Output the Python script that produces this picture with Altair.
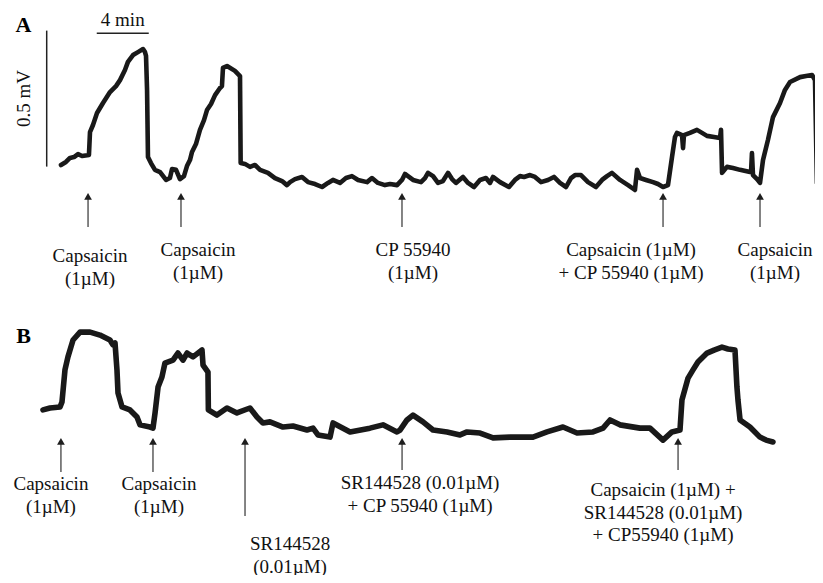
import altair as alt
import pandas as pd

# ---------------- data (time in min, potential in mV, relative) ----------------
A_TIME = [0, 0.38, 0.69, 1.00, 1.31, 1.62, 2.15, 2.23, 2.46, 2.77,
          3.23, 3.77, 4.23, 4.54, 4.92, 5.15, 5.54, 5.92, 6.31, 6.46,
          6.54, 6.62, 6.69, 6.92, 7.23, 7.62, 8.08, 8.38, 8.54, 8.85,
          9.15, 9.46, 9.69, 9.92, 10.08, 10.38, 10.69, 11.00, 11.23, 11.54,
          11.85, 12.23, 12.38, 12.46, 12.77, 13.38, 13.77, 13.82, 14.15, 14.54,
          14.92, 15.31, 15.92, 16.46, 17.00, 17.38, 17.62, 18.00, 18.54, 19.00,
          19.54, 20.08, 20.54, 20.92, 21.46, 21.92, 22.38, 22.85, 23.54, 23.92,
          24.38, 24.92, 25.31, 25.85, 26.23, 26.46, 26.69, 27.08, 27.69, 28.00,
          28.23, 28.62, 29.00, 29.38, 29.77, 30.08, 30.38, 30.92, 31.31, 31.77,
          32.23, 32.69, 33.00, 33.23, 33.77, 34.46, 34.92, 35.31, 35.62, 36.08,
          36.46, 36.92, 37.46, 37.92, 38.38, 38.85, 39.23, 39.54, 40.00, 40.54,
          41.15, 41.62, 42.00, 42.38, 43.00, 43.62, 44.15, 44.31, 44.54, 45.00,
          45.54, 45.92, 46.31, 46.69, 47.00, 47.23, 47.38, 47.77, 47.85, 47.92,
          48.38, 48.92, 49.31, 49.69, 50.23, 50.69, 50.77, 50.85, 51.23, 51.69,
          52.23, 53.00, 53.08, 53.15, 53.23, 53.54, 53.77, 54.00, 54.38, 54.77,
          55.31, 55.69, 56.08, 56.85, 57.31, 57.77, 58.00, 58.15, 58.38]
A_MV = [0.092, 0.103, 0.118, 0.121, 0.132, 0.125, 0.129, 0.213, 0.239, 0.283,
        0.320, 0.360, 0.382, 0.404, 0.441, 0.471, 0.496, 0.507, 0.518, 0.507,
        0.493, 0.368, 0.121, 0.099, 0.074, 0.066, 0.037, 0.044, 0.077, 0.074,
        0.040, 0.051, 0.088, 0.110, 0.140, 0.169, 0.221, 0.257, 0.294, 0.316,
        0.349, 0.375, 0.382, 0.449, 0.456, 0.438, 0.419, 0.099, 0.096, 0.085,
        0.092, 0.074, 0.063, 0.044, 0.033, 0.018, 0.029, 0.040, 0.048, 0.029,
        0.022, 0.011, 0.026, 0.037, 0.026, 0.044, 0.051, 0.037, 0.029, 0.044,
        0.026, 0.018, 0.022, 0.018, 0.037, 0.059, 0.051, 0.037, 0.029, 0.044,
        0.063, 0.051, 0.026, 0.033, 0.063, 0.040, 0.026, 0.048, 0.026, 0.011,
        0.037, 0.044, 0.026, 0.048, 0.029, 0.011, 0.037, 0.051, 0.048, 0.055,
        0.048, 0.029, 0.037, 0.048, 0.026, 0.011, 0.044, 0.055, 0.055, 0.029,
        0.011, 0.037, 0.051, 0.063, 0.037, 0.018, 0.000, 0.074, 0.044, 0.037,
        0.029, 0.022, 0.011, 0.018, 0.121, 0.195, 0.210, 0.202, 0.154, 0.202,
        0.210, 0.221, 0.210, 0.199, 0.195, 0.191, 0.221, 0.063, 0.085, 0.081,
        0.074, 0.066, 0.066, 0.136, 0.055, 0.040, 0.026, 0.110, 0.184, 0.268,
        0.320, 0.368, 0.397, 0.415, 0.419, 0.423, 0.404, 0.026, 0.026]

B_TIME = [0, 0.54, 1.31, 1.46, 1.69, 1.92, 2.31, 2.85, 3.62, 4.38,
          5.15, 5.38, 5.54, 5.69, 5.77, 6.08, 6.69, 7.23, 7.46, 8.23,
          8.46, 8.62, 8.85, 9.15, 9.38, 10.00, 10.38, 10.77, 11.08, 11.54,
          12.23, 12.31, 12.69, 12.72, 13.38, 14.15, 14.92, 15.92, 16.46, 16.92,
          17.46, 18.46, 19.23, 20.31, 20.77, 21.15, 22.08, 22.31, 23.62, 25.15,
          26.15, 27.23, 27.46, 28.00, 28.46, 29.23, 30.00, 31.08, 32.08, 32.62,
          33.62, 34.62, 35.92, 37.69, 38.77, 40.00, 41.08, 42.31, 43.08, 43.62,
          44.38, 45.92, 46.69, 47.69, 48.38, 49.00, 49.15, 49.62, 50.00, 50.38,
          51.08, 51.62, 52.23, 52.69, 53.23, 53.38, 53.46, 53.62, 54.38, 55.15,
          55.62, 56.15]
B_MV = [0.118, 0.125, 0.129, 0.147, 0.265, 0.313, 0.375, 0.404, 0.404, 0.393,
        0.375, 0.357, 0.364, 0.265, 0.180, 0.129, 0.118, 0.092, 0.063, 0.055,
        0.051, 0.107, 0.202, 0.239, 0.290, 0.301, 0.327, 0.301, 0.327, 0.313,
        0.338, 0.283, 0.257, 0.118, 0.099, 0.125, 0.107, 0.125, 0.092, 0.070,
        0.074, 0.055, 0.059, 0.044, 0.051, 0.026, 0.018, 0.070, 0.037, 0.051,
        0.063, 0.037, 0.044, 0.081, 0.099, 0.074, 0.044, 0.037, 0.026, 0.037,
        0.033, 0.015, 0.018, 0.018, 0.037, 0.055, 0.033, 0.037, 0.051, 0.081,
        0.063, 0.051, 0.051, 0.007, 0.037, 0.044, 0.154, 0.235, 0.265, 0.294,
        0.327, 0.338, 0.349, 0.342, 0.338, 0.202, 0.154, 0.081, 0.055, 0.018,
        0.007, 0.000]

A_EVENT_TIME = [2.08, 9.23, 26.23, 46.31, 53.77]
A_EVENT_LABEL = ["Capsaicin\n(1µM)", "Capsaicin\n(1µM)", "CP 55940\n(1µM)",
                 "Capsaicin (1µM)\n+ CP 55940 (1µM)", "Capsaicin\n(1µM)"]
B_EVENT_TIME = [1.38, 8.46, 15.54, 27.62, 48.85]
B_EVENT_LABEL = ["Capsaicin\n(1µM)", "Capsaicin\n(1µM)", "SR144528\n(0.01µM)",
                 "SR144528 (0.01µM)\n+ CP 55940 (1µM)",
                 "Capsaicin (1µM) +\nSR144528 (0.01µM)\n+ CP55940 (1µM)"]

SCALE_MIN = 4
SCALE_MV = 0.5
SCALE_LABELS = ["4 min", "0.5 mV"]
PANEL_LETTERS = ["A", "B"]

# ---------------- layout / style ----------------
W, H = 807, 567
PX_PER_MIN = 13.0
PX_PER_MV = 272.0
A_ORIGIN = (53, 182)
B_ORIGIN = (35, 434)
FONT = "Liberation Serif"
INK = "#191919"
TEXT = "#111111"
FS = 19

SB_H_T0, SB_H_V = 2.75, 0.576
SB_V_T, SB_V_V0 = -1.10, 0.086
MIN_LABEL_V = 0.603
MV_LABEL_T = -2.81

A_LABEL_DX = [2, 17, 11, -32, 15]
A_LABEL_Y = [254, 248, 248, 248, 248]
A_ARROW_TAIL = [219, 219, 219, 219, 219]
A_ARROW_TIP = 185
B_LABEL_DX = [-10, 6, 45, 18, -15]
B_LABEL_Y = [482, 482, 542, 481, 488]
B_ARROW_TAIL = [464, 464, 508, 462, 462]
B_ARROW_TIP = 430


def xs(origin):
    return alt.Scale(domain=[-origin[0] / PX_PER_MIN, (W - origin[0]) / PX_PER_MIN],
                     nice=False, zero=False)


def ys(origin):
    return alt.Scale(domain=[(origin[1] - H) / PX_PER_MV, origin[1] / PX_PER_MV],
                     nice=False, zero=False)


layers = []

panels = [
    (A_TIME, A_MV, A_ORIGIN, 4.6, A_EVENT_TIME, A_EVENT_LABEL, A_LABEL_DX, A_LABEL_Y,
     A_ARROW_TAIL, A_ARROW_TIP),
    (B_TIME, B_MV, B_ORIGIN, 5.6, B_EVENT_TIME, B_EVENT_LABEL, B_LABEL_DX, B_LABEL_Y,
     B_ARROW_TAIL, B_ARROW_TIP),
]

for (T, V, origin, sw, ev_t, ev_lab, dxs, lys, tails, tip) in panels:
    df = pd.DataFrame({"t": T, "v": V, "i": list(range(len(T)))})
    layers.append(
        alt.Chart(df).mark_line(color=INK, strokeWidth=sw, strokeJoin="round",
                                strokeCap="round").encode(
            x=alt.X("t:Q", scale=xs(origin), axis=None),
            y=alt.Y("v:Q", scale=ys(origin), axis=None),
            order=alt.Order("i:Q"),
        )
    )
    for i, (t, lab) in enumerate(zip(ev_t, ev_lab)):
        d = pd.DataFrame({"t": [t], "label": [lab]})
        X = alt.X("t:Q", scale=xs(origin), axis=None)
        base = alt.Chart(d)
        layers.append(base.mark_rule(color="#333333", strokeWidth=1.2).encode(
            x=X, y=alt.value(tails[i]), y2=alt.value(tip + 4)))
        layers.append(base.mark_point(shape="triangle-up", filled=True, size=60,
                                      color="#1e1e1e", opacity=1, strokeWidth=0).encode(
            x=X, y=alt.value(tip + 3.3)))
        layers.append(base.mark_text(font=FONT, fontSize=FS, align="center",
                                     baseline="alphabetic", lineBreak="\n",
                                     lineHeight=22.5, dx=dxs[i], color=TEXT).encode(
            x=X, y=alt.value(lys[i]), text="label:N"))

# scale bars (panel A)
sb_h = pd.DataFrame({"t": [SB_H_T0], "t2": [SB_H_T0 + SCALE_MIN], "v": [SB_H_V]})
layers.append(alt.Chart(sb_h).mark_rule(color="#222222", strokeWidth=1.5).encode(
    x=alt.X("t:Q", scale=xs(A_ORIGIN), axis=None), x2="t2:Q",
    y=alt.Y("v:Q", scale=ys(A_ORIGIN), axis=None)))
sb_v = pd.DataFrame({"t": [SB_V_T], "v": [SB_V_V0], "v2": [SB_V_V0 + SCALE_MV]})
layers.append(alt.Chart(sb_v).mark_rule(color="#222222", strokeWidth=1.5).encode(
    x=alt.X("t:Q", scale=xs(A_ORIGIN), axis=None),
    y=alt.Y("v:Q", scale=ys(A_ORIGIN), axis=None), y2="v2:Q"))

lab_min = pd.DataFrame({"t": [SB_H_T0 + SCALE_MIN / 2], "v": [MIN_LABEL_V], "s": [SCALE_LABELS[0]]})
layers.append(alt.Chart(lab_min).mark_text(font=FONT, fontSize=FS, align="center",
                                           baseline="alphabetic", color=TEXT).encode(
    x=alt.X("t:Q", scale=xs(A_ORIGIN), axis=None),
    y=alt.Y("v:Q", scale=ys(A_ORIGIN), axis=None), text="s:N"))
lab_mv = pd.DataFrame({"t": [MV_LABEL_T], "v": [SB_V_V0 + SCALE_MV / 2], "s": [SCALE_LABELS[1]]})
layers.append(alt.Chart(lab_mv).mark_text(font=FONT, fontSize=FS, align="center",
                                          baseline="middle", angle=270, color=TEXT).encode(
    x=alt.X("t:Q", scale=xs(A_ORIGIN), axis=None),
    y=alt.Y("v:Q", scale=ys(A_ORIGIN), axis=None), text="s:N"))

# panel letters
for letter, ly in zip(PANEL_LETTERS, [24, 335]):
    layers.append(alt.Chart(pd.DataFrame({"s": [letter]})).mark_text(
        font=FONT, fontSize=22, fontWeight="bold", align="center",
        baseline="alphabetic", color="#000000").encode(
        x=alt.value(15.5), y=alt.value(ly), text="s:N"))

chart = alt.layer(*layers).resolve_scale(x="independent", y="independent").properties(
    width=W, height=H, autosize=alt.AutoSizeParams(type="none"), padding=0,
    background="white",
).configure_view(stroke=None)

chart.save("out.html", embed_options={"renderer": "svg", "actions": False})
